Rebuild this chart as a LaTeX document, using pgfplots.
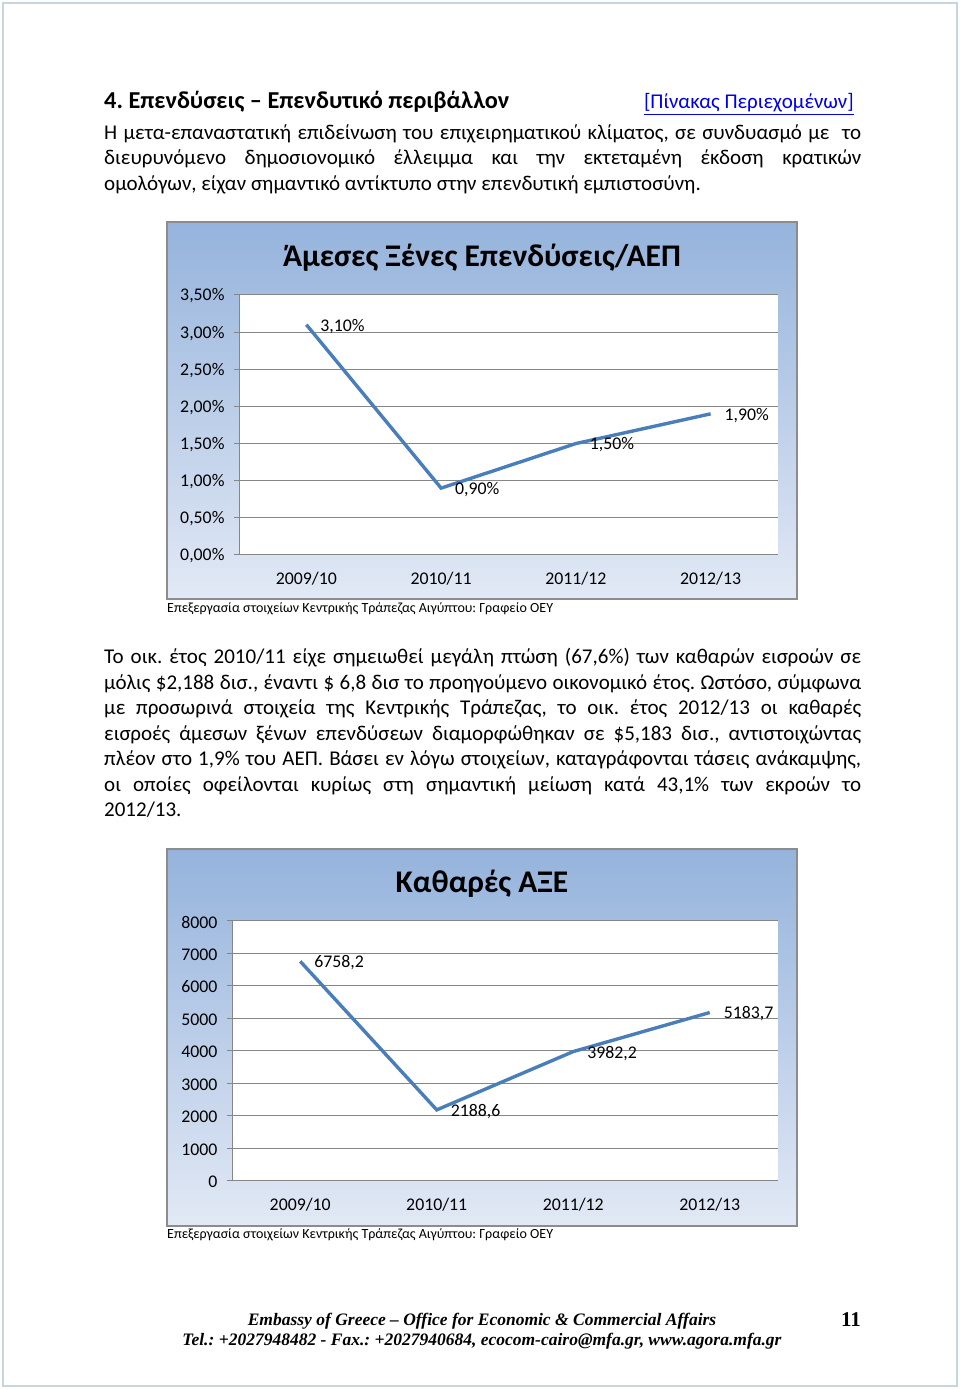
\documentclass[border=0pt]{standalone}
\usepackage{fontspec}
\setmainfont{Carlito}
\newfontfamily\timesf{Liberation Serif}
\usepackage{pgfplots}
\pgfplotsset{compat=1.18}
\definecolor{lineblue}{RGB}{74,126,187}
\definecolor{bgtop}{RGB}{149,179,220}
\definecolor{bgbot}{RGB}{226,233,245}
\definecolor{gridgray}{RGB}{134,134,134}
\definecolor{boxgray}{RGB}{140,140,140}
\definecolor{pageborder}{RGB}{200,212,222}
\definecolor{linkblue}{RGB}{0,0,230}
\frenchspacing
\newcommand\body{\fontsize{21}{24}\selectfont}
\newcommand\jline[2]{\node[anchor=base west, inner sep=0] at (104,1389-#1) {\body\makebox[757pt][s]{#2}};}
\newcommand\lline[2]{\node[anchor=base west, inner sep=0] at (104,1389-#1) {\body #2};}
\pgfplotsset{
  excel/.style={
    scale only axis, anchor=south west, clip=false,
    xmin=-0.5, xmax=3.5, ymin=0,
    xtick={0,1,2,3}, xticklabels={2009/10,2010/11,2011/12,2012/13},
    minor xtick={-0.5,0.5,1.5,2.5,3.5},
    axis x line*=bottom, axis y line*=left,
    axis line style={gridgray, line width=1pt},
    axis background/.style={fill=white},
    ymajorgrids, grid style={gridgray, line width=1pt},
    tick align=outside,
    xtick style={draw=none},
    minor x tick style={gridgray, line width=1pt},
    minor tick length=7pt,
    major tick length=5pt,
    ytick style={gridgray, line width=1pt},
    ticklabel style={font=\fontsize{17.8}{18}\selectfont, text=black},
    xticklabel style={yshift=-9pt},
    yticklabel style={xshift=-6pt, yshift=-1pt},
    /pgf/number format/assume math mode=true,
  },
  dataline/.style={lineblue, line width=3.4pt, mark=none,
    nodes near coords, point meta=explicit symbolic,
    every node near coord/.append style={anchor=west, xshift=9pt, yshift=-1.5pt,
      font=\fontsize{17.8}{18}\selectfont, text=black}},
}
\begin{document}
\begin{tikzpicture}[x=1pt,y=1pt]
\fill[white] (0,0) rectangle (960,1389);
\draw[pageborder, line width=1.2pt] (3,3) rectangle (957,1386);
% heading
\node[anchor=base west, inner sep=0] at (104,1389-109) {\fontsize{24.3}{28}\selectfont\bfseries 4. Επενδύσεις – Επενδυτικό περιβάλλον};
\node[anchor=base east, inner sep=0] at (854,1389-109) {\body\color{linkblue}\underline{[Πίνακας Περιεχομένων]}};
\jline{140}{Η μετα-επαναστατική επιδείνωση του επιχειρηματικού κλίματος, σε συνδυασμό με \ το}
\jline{165}{διευρυνόμενο δημοσιονομικό έλλειμμα και την εκτεταμένη έκδοση κρατικών}
\lline{191}{ομολόγων, είχαν σημαντικό αντίκτυπο στην επενδυτική εμπιστοσύνη.}
% chart 1
\shade[top color=bgtop, bottom color=bgbot] (167,790) rectangle (797,1167);
\draw[boxgray, line width=1.2pt] (167,790) rectangle (797,1167);
\node at (482,1389-258) {\fontsize{31.5}{34}\selectfont\bfseries Άμεσες Ξένες Επενδύσεις/ΑΕΠ};
\begin{axis}[excel, at={(239pt,834pt)}, width=539pt, height=260pt, ymax=3.5,
  ytick={0,0.5,1,1.5,2,2.5,3,3.5},
  yticklabels={{0,00\%},{0,50\%},{1,00\%},{1,50\%},{2,00\%},{2,50\%},{3,00\%},{3,50\%}}]
\addplot[dataline] coordinates {(0,3.1) [3,10\%] (1,0.9) [0,90\%] (2,1.5) [1,50\%] (3,1.9) [1,90\%]};
\end{axis}
\node[anchor=west, inner sep=0] at (167,1389-609) {\fontsize{14}{16}\selectfont Επεξεργασία στοιχείων Κεντρικής Τράπεζας Αιγύπτου: Γραφείο ΟΕΥ};
% paragraph 2
\jline{664}{Το οικ. έτος 2010/11 είχε σημειωθεί μεγάλη πτώση (67,6\%) των καθαρών εισροών σε}
\jline{690}{μόλις \$2,188 δισ., έναντι \$ 6,8 δισ το προηγούμενο οικονομικό έτος. Ωστόσο, σύμφωνα}
\jline{715}{με προσωρινά στοιχεία της Κεντρικής Τράπεζας, το οικ. έτος 2012/13 οι καθαρές}
\jline{741}{εισροές άμεσων ξένων επενδύσεων διαμορφώθηκαν σε \$5,183 δισ., αντιστοιχώντας}
\jline{766}{πλέον στο 1,9\% του ΑΕΠ. Βάσει εν λόγω στοιχείων, καταγράφονται τάσεις ανάκαμψης,}
\jline{792}{οι οποίες οφείλονται κυρίως στη σημαντική μείωση κατά 43,1\% των εκροών το}
\lline{817}{2012/13.}
% chart 2
\shade[top color=bgtop, bottom color=bgbot] (167,163) rectangle (797,540);
\draw[boxgray, line width=1.2pt] (167,163) rectangle (797,540);
\node at (482,1389-884) {\fontsize{31.5}{34}\selectfont\bfseries Καθαρές ΑΞΕ};
\begin{axis}[excel, at={(232pt,208pt)}, width=546pt, height=260pt, ymax=8000,
  ytick={0,1000,2000,3000,4000,5000,6000,7000,8000},
  yticklabels={0,1000,2000,3000,4000,5000,6000,7000,8000}]
\addplot[dataline] coordinates {(0,6758.2) [6758,2] (1,2188.6) [2188,6] (2,3982.2) [3982,2] (3,5183.7) [5183,7]};
\end{axis}
\node[anchor=west, inner sep=0] at (167,1389-1235) {\fontsize{14}{16}\selectfont Επεξεργασία στοιχείων Κεντρικής Τράπεζας Αιγύπτου: Γραφείο ΟΕΥ};
% footer
\node[inner sep=0] at (482,1389-1321) {\timesf\bfseries\itshape\fontsize{17.5}{19}\selectfont Embassy of Greece – Office for Economic \& Commercial Affairs};
\node[inner sep=0] at (482,1389-1341) {\timesf\bfseries\itshape\fontsize{17.5}{19}\selectfont Tel.: +2027948482 - Fax.: +2027940684, ecocom-cairo@mfa.gr, www.agora.mfa.gr};
\node[inner sep=0] at (851,1389-1320) {\timesf\bfseries\fontsize{21}{22}\selectfont 11};
\end{tikzpicture}
\end{document}
